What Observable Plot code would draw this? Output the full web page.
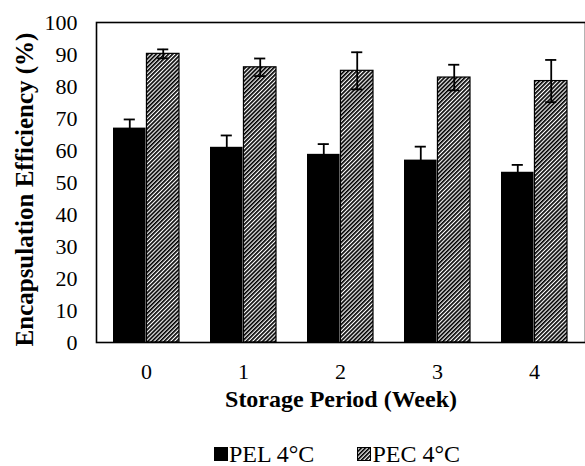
<!DOCTYPE html>
<html>
<head>
<meta charset="utf-8">
<script src="https://cdn.jsdelivr.net/npm/d3@7"></script>
<script src="https://cdn.jsdelivr.net/npm/@observablehq/plot@0.6"></script>
<style>
  html, body { margin: 0; padding: 0; background: white; overflow: hidden; }
  #chart { width: 585px; }
  #chart svg, #chart svg text, #chart svg g { font-family: "Liberation Serif", "Times New Roman", serif !important; }
  .legend { display: flex; justify-content: center; gap: 43px; font-family: "Liberation Serif", "Times New Roman", serif; font-size: 24px; color: black; height: 24px; align-items: center; padding-left: 89px; box-sizing: border-box; width: 585px; white-space: nowrap; }
  .legend span.item { display: inline-flex; align-items: center; }
  .legend svg { margin-right: 1px; flex: none; }
</style>
</head>
<body>
<div id="chart"></div>
<script>
// ---- data ----
const weeks = ["0", "1", "2", "3", "4"];
const pelValues = [67.0, 61.0, 58.8, 57.0, 53.2];
const pelErrors = [2.7, 3.7, 3.2, 4.2, 2.3];
const pecValues = [90.2, 86.0, 84.9, 82.8, 81.7];
const pecErrors = [1.4, 2.75, 5.8, 4.0, 6.6];
const seriesNames = ["PEL 4°C", "PEC 4°C"];
const yTicks = [0, 10, 20, 30, 40, 50, 60, 70, 80, 90, 100];
const xTitle = "Storage Period (Week)";
const yTitle = "Encapsulation Efficiency (%)";

const pel = weeks.map((w, i) => ({week: w, value: pelValues[i], err: pelErrors[i]}));
const pec = weeks.map((w, i) => ({week: w, value: pecValues[i], err: pecErrors[i]}));

// layout
const W = 585, H = 442, mL = 96, mR = 0, mT = 22, mB = 100;
const pInner = 0.316, pOuter = 0.158;
const step = (W - mL - mR) / (weeks.length - pInner + 2 * pOuter);
const bw = step * (1 - pInner);
const half = bw / 2, q = bw / 4, cap = 6;

const hatch = "url(#hatch)";

const plot = Plot.plot({
  width: W, height: H,
  marginLeft: mL, marginRight: mR, marginTop: mT, marginBottom: mB,
  style: {fontFamily: "'Liberation Serif', 'Times New Roman', serif", fontSize: "22px", color: "black", background: "white", overflow: "visible"},
  x: {domain: weeks, type: "band", paddingInner: pInner, paddingOuter: pOuter, tickSize: 0, tickPadding: 21, label: null},
  y: {domain: [0, 100], ticks: yTicks, tickSize: 0, tickPadding: 19, label: null},
  marks: [
    Plot.barY(pel, {x: "week", y: "value", fill: "black", insetRight: half}),
    Plot.barY(pec, {x: "week", y: "value", fill: hatch, stroke: "black", strokeWidth: 1.2, insetLeft: half}),
    Plot.ruleX(pel, {x: "week", y1: d => d.value - d.err, y2: d => d.value + d.err, dx: -q, stroke: "black", strokeWidth: 1.8}),
    Plot.ruleX(pec, {x: "week", y1: d => d.value - d.err, y2: d => d.value + d.err, dx: q, stroke: "black", strokeWidth: 1.8}),
    Plot.tickY(pel, {x: "week", y: d => d.value + d.err, insetLeft: q - cap, insetRight: bw - q - cap, stroke: "black", strokeWidth: 1.8}),
    Plot.tickY(pel, {x: "week", y: d => d.value - d.err, insetLeft: q - cap, insetRight: bw - q - cap, stroke: "black", strokeWidth: 1.8}),
    Plot.tickY(pec, {x: "week", y: d => d.value + d.err, insetLeft: 3 * q - cap, insetRight: q - cap, stroke: "black", strokeWidth: 1.8}),
    Plot.tickY(pec, {x: "week", y: d => d.value - d.err, insetLeft: 3 * q - cap, insetRight: q - cap, stroke: "black", strokeWidth: 1.8}),
    Plot.frame({stroke: "black", strokeWidth: 1.6}),
    Plot.text([yTitle], {frameAnchor: "left", dx: -72, dy: 7, rotate: -90, textAnchor: "middle", fontWeight: "bold", fontSize: 25}),
    Plot.text([xTitle], {frameAnchor: "bottom", dy: 64, fontWeight: "bold", fontSize: 24})
  ]
});

// hatch pattern definition
const svgNS = "http://www.w3.org/2000/svg";
function addPattern(svg, id) {
  const defs = document.createElementNS(svgNS, "defs");
  const pat = document.createElementNS(svgNS, "pattern");
  pat.setAttribute("id", id);
  pat.setAttribute("patternUnits", "userSpaceOnUse");
  pat.setAttribute("width", "2.9");
  pat.setAttribute("height", "8");
  pat.setAttribute("patternTransform", "rotate(45)");
  const bg = document.createElementNS(svgNS, "rect");
  bg.setAttribute("width", "2.9"); bg.setAttribute("height", "8"); bg.setAttribute("fill", "white");
  const ln = document.createElementNS(svgNS, "rect");
  ln.setAttribute("width", "1.7"); ln.setAttribute("height", "8"); ln.setAttribute("fill", "black");
  pat.appendChild(bg); pat.appendChild(ln);
  defs.appendChild(pat);
  svg.insertBefore(defs, svg.firstChild);
}
addPattern(plot, "hatch");
document.getElementById("chart").appendChild(plot);

// legend (below the chart)
const legend = document.createElement("div");
legend.className = "legend";
const fills = ["black", "url(#hatchL)"];
seriesNames.forEach((name, i) => {
  const item = document.createElement("span");
  item.className = "item";
  const sw = document.createElementNS(svgNS, "svg");
  sw.setAttribute("width", "14"); sw.setAttribute("height", "14");
  if (i === 1) addPattern(sw, "hatchL");
  const r = document.createElementNS(svgNS, "rect");
  r.setAttribute("x", "0.5"); r.setAttribute("y", "0.5"); r.setAttribute("width", "13"); r.setAttribute("height", "13");
  r.setAttribute("fill", fills[i]); r.setAttribute("stroke", "black"); r.setAttribute("stroke-width", "1");
  sw.appendChild(r);
  item.appendChild(sw);
  item.appendChild(document.createTextNode(name));
  legend.appendChild(item);
});
document.getElementById("chart").appendChild(legend);
</script>
</body>
</html>
